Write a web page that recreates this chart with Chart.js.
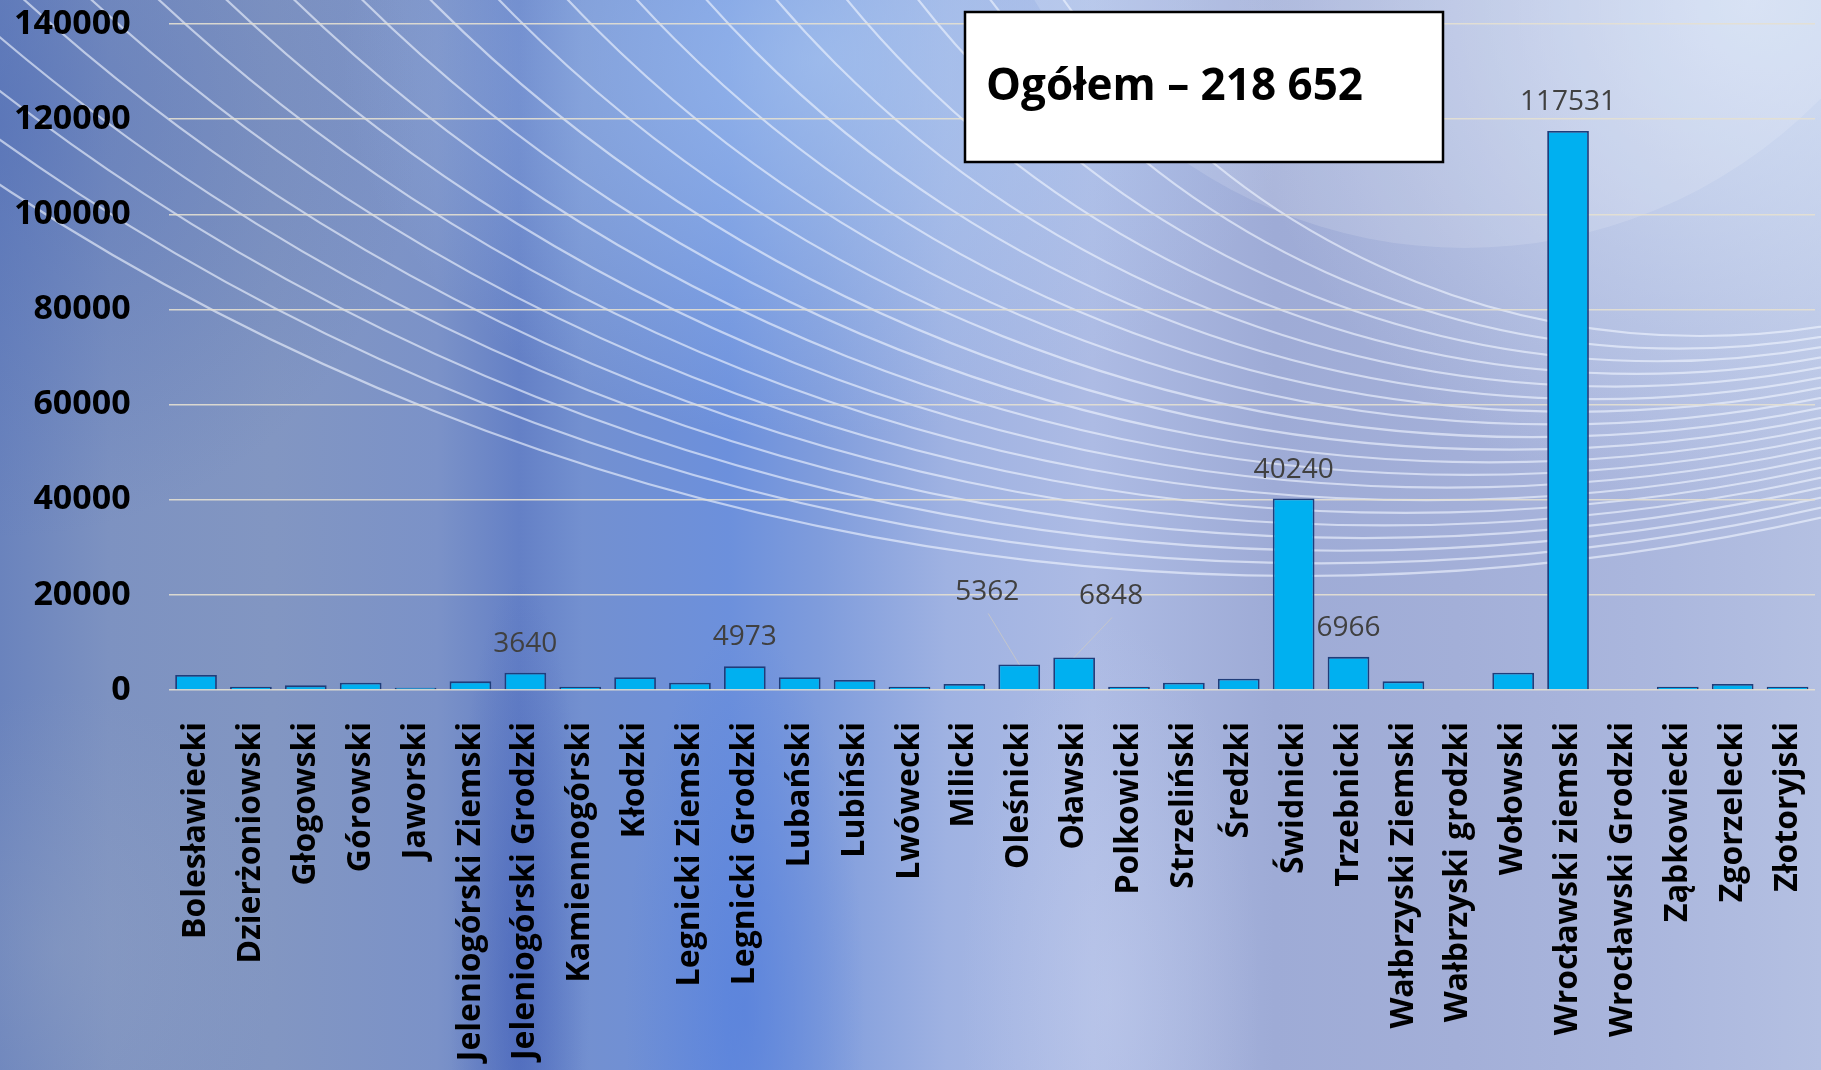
<!DOCTYPE html>
<html>
<head>
<meta charset="utf-8">
<script src="https://cdn.jsdelivr.net/npm/chart.js@4.4.1/dist/chart.umd.min.js"></script>
<style>
html,body{margin:0;padding:0;overflow:hidden;background:#7f94c6;}
#wrap{width:1821px;height:1070px;position:relative;}
canvas{display:block;}
</style>
</head>
<body>
<div id="wrap"><canvas id="c" width="1821" height="1070"></canvas></div>
<script>
// ---------- DATA ----------
const categories = [
  'Bolesławiecki','Dzierżoniowski','Głogowski','Górowski','Jaworski',
  'Jeleniogórski Ziemski','Jeleniogórski Grodzki','Kamiennogórski','Kłodzki','Legnicki Ziemski',
  'Legnicki Grodzki','Lubański','Lubiński','Lwówecki','Milicki',
  'Oleśnicki','Oławski','Polkowicki','Strzeliński','Średzki',
  'Świdnicki','Trzebnicki','Wałbrzyski Ziemski','Wałbrzyski grodzki','Wołowski',
  'Wrocławski ziemski','Wrocławski Grodzki','Ząbkowiecki','Zgorzelecki','Złotoryjski'
];
const values = [
  3160, 700, 980, 1540, 490,
  1820, 3640, 700, 2670, 1540,
  4973, 2670, 2100, 700, 1260,
  5362, 6848, 700, 1540, 2390,
  40240, 6966, 1820, 0, 3650,
  117531, 0, 700, 1260, 700
];
const labelledIndices = [6, 10, 15, 16, 20, 21, 25];
const yTickValues = [0, 20000, 40000, 60000, 80000, 100000, 120000, 140000];
const totalLabel = 'Ogółem – 218 652';

// ---------- STYLE ----------
const FONT = '"Open Sans", "Noto Sans", sans-serif';
const labelOffsets = { 15: [-32, -72], 16: [37, -61] }; // labels moved with leader lines

const bgPlugin = {
  id: 'bg',
  beforeDraw(chart) {
    const ctx = chart.ctx, W = chart.width, H = chart.height;
    ctx.save();
    const g = ctx.createLinearGradient(0, 0, W, 0);
    const stops = [
      [0, '#6a83bd'], [0.06, '#7d92c1'], [0.15, '#8296c2'], [0.24, '#7b92c8'],
      [0.285, '#6480c6'], [0.32, '#7390d0'], [0.40, '#6c90dc'], [0.45, '#7f9cdc'],
      [0.52, '#9fb2e2'], [0.60, '#adbbe4'], [0.70, '#9eabd6'], [0.80, '#a3afd8'],
      [0.90, '#aab6dd'], [1, '#b4c0e2']
    ];
    stops.forEach(s => g.addColorStop(s[0], s[1]));
    ctx.fillStyle = g;
    ctx.fillRect(0, 0, W, H);

    function rad(x, y, rx, ry, rgb, a) {
      ctx.save();
      ctx.translate(x, y);
      ctx.scale(1, ry / rx);
      const rg = ctx.createRadialGradient(0, 0, 0, 0, 0, rx);
      rg.addColorStop(0, 'rgba(' + rgb + ',' + a + ')');
      rg.addColorStop(1, 'rgba(' + rgb + ',0)');
      ctx.fillStyle = rg;
      ctx.fillRect(-rx, -rx, rx * 2, rx * 2);
      ctx.restore();
    }
    rad(0, 120, 420, 420, '75,105,180', 0.45);
    rad(820, 60, 480, 380, '175,205,245', 0.6);
    rad(520, 1000, 70, 420, '55,85,180', 0.45);
    rad(745, 1010, 120, 380, '75,120,220', 0.5);
    rad(1110, 1000, 150, 380, '200,210,240', 0.4);
    rad(1750, 0, 520, 520, '222,234,250', 0.75);
    rad(60, 950, 220, 260, '150,165,195', 0.35);

    // light disk upper right
    ctx.beginPath();
    ctx.arc(1465, -250, 498, 0, Math.PI * 2);
    ctx.fillStyle = 'rgba(255,255,255,0.14)';
    ctx.fill();

    // decorative arcs
    const N = 20;
    ctx.lineWidth = 2.2;
    ctx.strokeStyle = 'rgba(240,245,255,0.62)';
    for (let i = 0; i < N; i++) {
      const t = i / (N - 1);
      const cx = 1700 + (1300 - 1700) * t;
      const cy = -434 + (-1780 + 434) * t;
      const r = 770 + (2356 - 770) * t;
      ctx.beginPath();
      ctx.arc(cx, cy, r, 0, Math.PI);
      ctx.stroke();
    }
    ctx.restore();
  }
};

const labelPlugin = {
  id: 'vals',
  afterDatasetsDraw(chart) {
    const ctx = chart.ctx;
    const meta = chart.getDatasetMeta(0);
    ctx.save();
    ctx.font = '28px ' + FONT;
    ctx.fillStyle = '#404040';
    ctx.textAlign = 'center';
    ctx.textBaseline = 'middle';
    labelledIndices.forEach(i => {
      const bar = meta.data[i];
      const v = chart.data.datasets[0].data[i];
      let lx = bar.x, ly = bar.y - 29;
      const off = labelOffsets[i];
      if (off) {
        lx = bar.x + off[0];
        ly = bar.y + off[1];
        ctx.beginPath();
        ctx.strokeStyle = 'rgba(200,200,200,0.85)';
        ctx.lineWidth = 1;
        ctx.moveTo(lx + 1, ly + 21);
        ctx.lineTo(bar.x, bar.y);
        ctx.stroke();
      }
      ctx.fillText(String(v), lx, ly);
    });
    ctx.restore();
  }
};

const boxPlugin = {
  id: 'box',
  afterDraw(chart) {
    const ctx = chart.ctx;
    ctx.save();
    ctx.fillStyle = '#ffffff';
    ctx.fillRect(965, 12, 478, 150);
    ctx.lineWidth = 2.5;
    ctx.strokeStyle = '#000000';
    ctx.strokeRect(965, 12, 478, 150);
    ctx.fillStyle = '#000000';
    ctx.font = 'bold 44px ' + FONT;
    ctx.textAlign = 'left';
    ctx.textBaseline = 'alphabetic';
    ctx.fillText(totalLabel, 986, 100);
    ctx.restore();
  }
};

new Chart(document.getElementById('c'), {
  type: 'bar',
  data: {
    labels: categories,
    datasets: [{
      data: values,
      backgroundColor: '#00B0F0',
      borderColor: '#1F3D7A',
      borderWidth: 1.8,
      borderSkipped: 'bottom',
      categoryPercentage: 1,
      barPercentage: 0.76
    }]
  },
  options: {
    responsive: false,
    animation: false,
    devicePixelRatio: 1,
    layout: { padding: { top: 24, right: 6, left: 0, bottom: 0 } },
    plugins: { legend: { display: false }, tooltip: { enabled: false } },
    scales: {
      x: {
        grid: { display: false },
        border: { display: false },
        ticks: {
          color: '#000000',
          font: { family: FONT, size: 32, weight: 'bold' },
          minRotation: 90,
          maxRotation: 90,
          autoSkip: false,
          padding: 24
        },
        afterFit(scale) {
          scale.height = 380;
          scale.paddingLeft = 0;
          scale.paddingRight = 0;
        }
      },
      y: {
        min: 0,
        max: 140000,
        afterBuildTicks(scale) {
          scale.ticks = yTickValues.map(v => ({ value: v }));
        },
        grid: { color: 'rgba(228,224,210,0.9)', lineWidth: 1.5, drawTicks: false },
        border: { display: false },
        ticks: {
          color: '#000000',
          font: { family: FONT, size: 34, weight: 'bold' },
          padding: 38,
          callback: v => String(v)
        },
        afterFit(scale) {
          scale.width = 168.6;
          scale.paddingTop = 0;
          scale.paddingBottom = 0;
        }
      }
    }
  },
  plugins: [bgPlugin, labelPlugin, boxPlugin]
});
</script>
</body>
</html>
